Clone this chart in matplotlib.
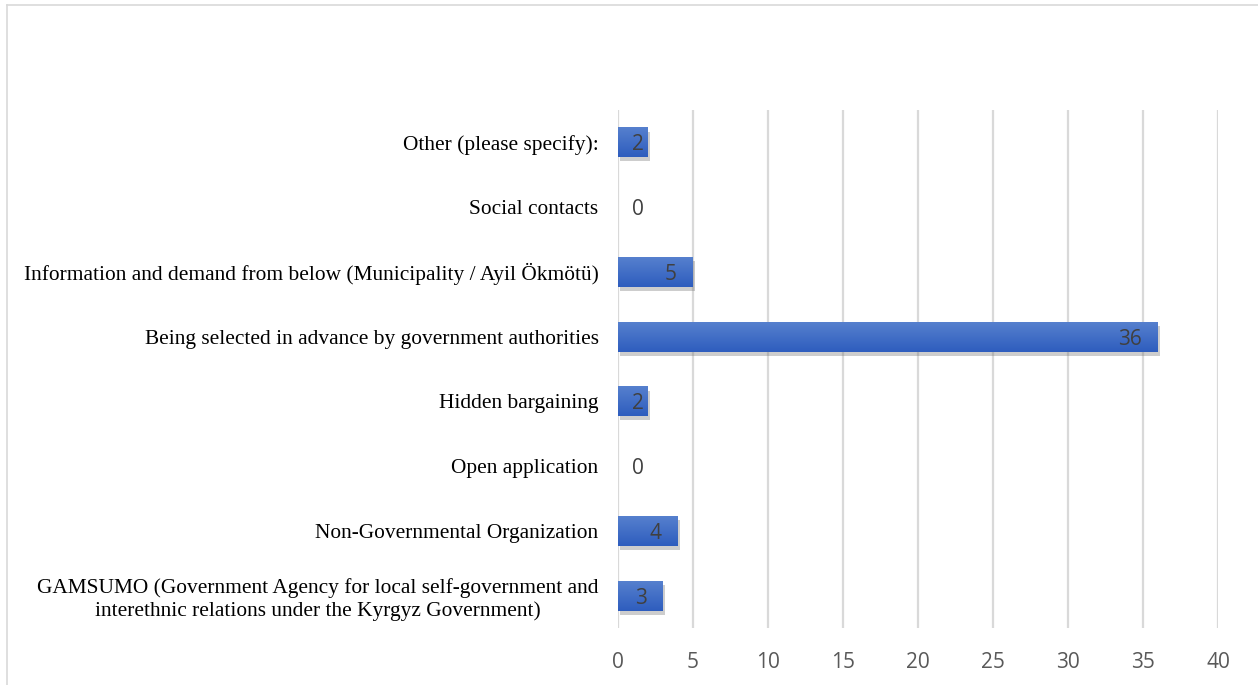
import numpy as np
import matplotlib.pyplot as plt
import matplotlib.patheffects as pe
from matplotlib.lines import Line2D
from matplotlib.colors import LinearSegmentedColormap

categories = [
    "GAMSUMO (Government Agency for local self-government and\ninterethnic relations under the Kyrgyz Government)",
    "Non-Governmental Organization",
    "Open application",
    "Hidden bargaining",
    "Being selected in advance by government authorities",
    "Information and demand from below (Municipality / Ayil Ökmötü)",
    "Social contacts",
    "Other (please specify):",
]
values = [3, 4, 0, 2, 36, 5, 0, 2]
xticks = [0, 5, 10, 15, 20, 25, 30, 35, 40]

fig = plt.figure(figsize=(12.58, 6.85), dpi=100)
ax = fig.add_axes([0.4913, 0.0832, 0.4769, 0.7562])

pos = list(range(len(categories)))
bars = ax.barh(pos, values, height=0.46, color="#3A66C4", zorder=3)
for b in bars:
    b.set_path_effects([pe.SimplePatchShadow(offset=(1.5, -3), shadow_rgbFace="#707070", alpha=0.35), pe.Normal()])

# vertical gradient fill on each bar (lighter on top, darker at the bottom)
cmap = LinearSegmentedColormap.from_list("grad", ["#2E5DBE", "#5680CE"])
grad = np.linspace(0, 1, 64).reshape(-1, 1)
for b in bars:
    if b.get_width() <= 0:
        continue
    x0, y0, w, h = b.get_x(), b.get_y(), b.get_width(), b.get_height()
    im = ax.imshow(grad, cmap=cmap, extent=[x0, x0 + w, y0, y0 + h], origin="lower",
                   aspect="auto", zorder=3.5, interpolation="bilinear")
    im.set_clip_path(b)

# data labels, inside end
for p, v in zip(pos, values):
    ax.text(max(v - 1.1, 1.75), p, str(v), ha="right", va="center_baseline",
            fontsize=15, color="#404040", family="Open Sans", zorder=4)

ax.set_xlim(0, 40)
ax.set_ylim(-0.5, len(categories) - 0.5)
ax.set_xticks(xticks)
ax.set_yticks(pos)
ax.set_yticklabels(categories, fontsize=15.4, family="Liberation Serif", multialignment="center")
ax.tick_params(axis="x", labelsize=15, colors="#595959", length=0, pad=17)
ax.tick_params(axis="y", length=0, pad=14)
for lbl in ax.get_xticklabels():
    lbl.set_family("Open Sans")
ax.grid(axis="x", color="#D9D9D9", linewidth=1.6, zorder=0)
for s in ax.spines.values():
    s.set_visible(False)

# chart border (top and left visible)
fig.add_artist(Line2D([7 / 1258, 1], [1 - 5 / 685, 1 - 5 / 685], color="#D9D9D9", lw=1.2))
fig.add_artist(Line2D([7 / 1258, 7 / 1258], [0, 1 - 5 / 685], color="#D9D9D9", lw=1.2))

fig.savefig("out.png", dpi=100)
